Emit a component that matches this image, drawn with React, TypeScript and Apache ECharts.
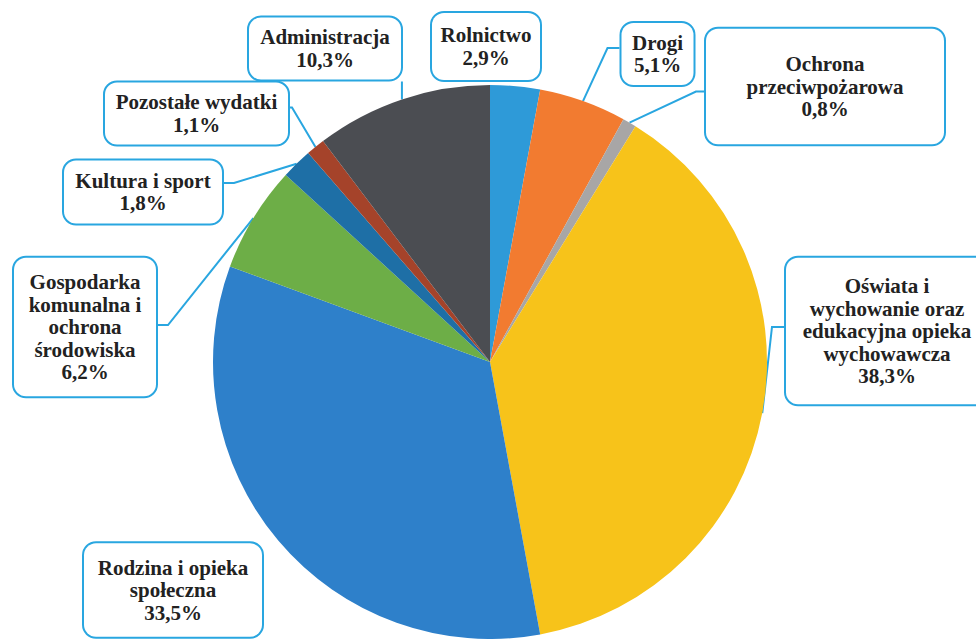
import React, { useEffect, useRef } from "react";
import * as echarts from "echarts";

// Data
const categories = [
  "Rolnictwo",
  "Drogi",
  "Ochrona\nprzeciwpożarowa",
  "Oświata i\nwychowanie oraz\nedukacyjna opieka\nwychowawcza",
  "Rodzina i opieka\nspołeczna",
  "Gospodarka\nkomunalna i\nochrona\nśrodowiska",
  "Kultura i sport",
  "Pozostałe wydatki",
  "Administracja",
];
const shares = [2.9, 5.1, 0.8, 38.3, 33.5, 6.2, 1.8, 1.1, 10.3];
const colors = [
  "#2E9AD8",
  "#F27B30",
  "#A8A6A6",
  "#F7C31A",
  "#2E80CA",
  "#6DAE47",
  "#1E6FA6",
  "#A5432A",
  "#4B4D52",
];

// Label box layout (center x/y, box width, vertical padding, anchor side, anchor y offset, elbow length)
type Box = { cx: number; cy: number; w: number; pv: number; side: string; ay: number; elbow: number };
const boxes: Box[] = [
  { cx: 486, cy: 46.5, w: 108, pv: 11, side: "none", ay: 0, elbow: 0 },
  { cx: 657.5, cy: 54, w: 72, pv: 8.5, side: "left", ay: -6, elbow: 12 },
  { cx: 825, cy: 86.5, w: 238, pv: 24, side: "left", ay: 5, elbow: 8 },
  { cx: 887, cy: 331, w: 202, pv: 17, side: "left", ay: -4, elbow: 12 },
  { cx: 173, cy: 590, w: 178, pv: 13, side: "none", ay: 0, elbow: 0 },
  { cx: 85, cy: 327, w: 142, pv: 13, side: "right", ay: -2, elbow: 10 },
  { cx: 143, cy: 192, w: 158, pv: 9, side: "right", ay: -9, elbow: 10 },
  { cx: 196.5, cy: 113.5, w: 183, pv: 8.5, side: "right", ay: -6, elbow: 2 },
  { cx: 325, cy: 48.5, w: 152, pv: 8.5, side: "bottom", ay: 0, elbow: 0 },
];

const BLUE_LINE = "#29A6E0";
const FONT = "'Liberation Serif', 'Times New Roman', 'DejaVu Serif', serif";

export default function App() {
  const ref = useRef<HTMLDivElement>(null);
  useEffect(() => {
    document.body.style.margin = "0";
    if (!ref.current) return;
    const chart = echarts.init(ref.current, null, { renderer: "svg" });
    const data = categories.map((name, i) => ({
      name,
      value: shares[i],
      itemStyle: { color: colors[i] },
      label: {
        width: boxes[i].w - 4,
        padding: [boxes[i].pv, 2],
      },
      labelLine: { show: boxes[i].side !== "none" },
    }));
    chart.setOption({
      animation: false,
      backgroundColor: "#ffffff",
      textStyle: { fontFamily: FONT },
      series: [
        {
          type: "pie",
          center: [490, 362],
          radius: [0, 277],
          startAngle: 90,
          clockwise: true,
          avoidLabelOverlap: false,
          data,
          itemStyle: { borderWidth: 0 },
          label: {
            show: true,
            position: "outside",
            formatter: (p: any) =>
              `${p.name}\n${Number(p.value).toFixed(1).replace(".", ",")}%`,
            fontFamily: FONT,
            fontWeight: "bold",
            fontSize: 21,
            lineHeight: 22.5,
            color: "#222222",
            align: "center",
            backgroundColor: "#ffffff",
            borderColor: BLUE_LINE,
            borderWidth: 2,
            borderRadius: 12,
          },
          labelLine: {
            show: true,
            lineStyle: { color: BLUE_LINE, width: 2 },
            length: 10,
            length2: 10,
          },
          labelLayout: (params: any) => {
            const b = boxes[params.dataIndex];
            const res: any = {
              x: b.cx,
              y: b.cy,
              align: "center",
              verticalAlign: "middle",
              hideOverlap: false,
            };
            const pts = params.labelLinePoints;
            if (pts && pts[0] && b.side !== "none") {
              const start = pts[0];
              const hw = (params.labelRect?.width ?? b.w) / 2;
              const hh = (params.labelRect?.height ?? 60) / 2;
              let end: number[];
              let mid: number[];
              if (b.side === "left") {
                end = [b.cx - hw, b.cy + b.ay];
                mid = [end[0] - b.elbow, end[1]];
              } else if (b.side === "right") {
                end = [b.cx + hw, b.cy + b.ay];
                mid = [end[0] + b.elbow, end[1]];
              } else {
                end = [start[0], b.cy + hh];
                mid = [start[0], b.cy + hh];
              }
              res.labelLinePoints = [start, mid, end];
            }
            return res;
          },
        },
      ],
    });
    return () => chart.dispose();
  }, []);
  return (
    <div
      ref={ref}
      style={{ position: "fixed", left: 0, top: 0, width: 976, height: 639 }}
    />
  );
}
